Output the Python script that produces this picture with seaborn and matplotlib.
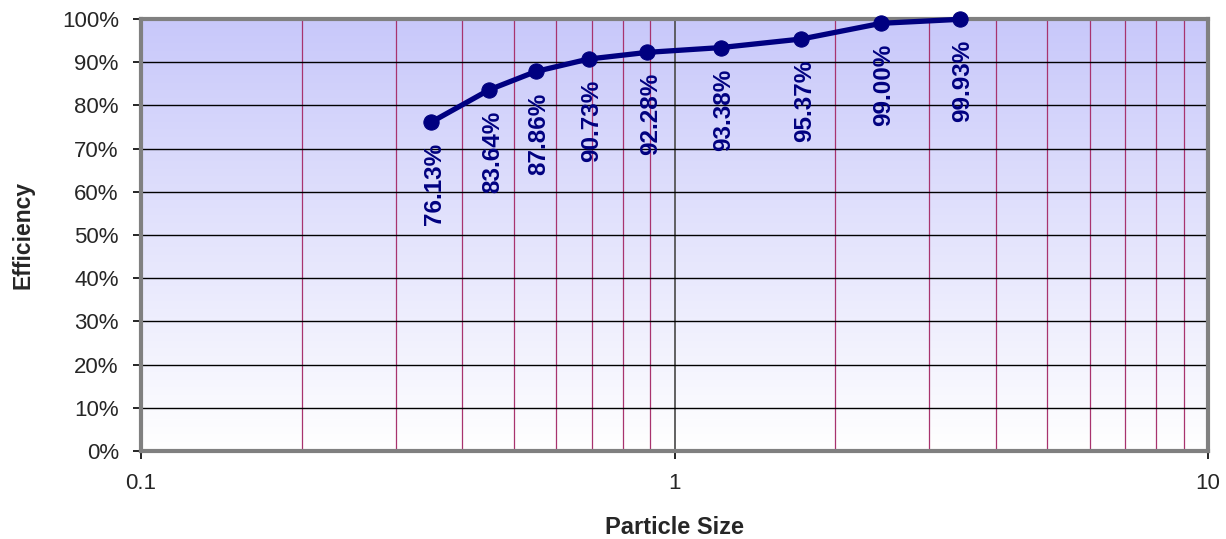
import numpy as np
import pandas as pd
import matplotlib
matplotlib.use("Agg")
import matplotlib.pyplot as plt
import matplotlib.ticker as mticker
import seaborn as sns

particle_size = [0.35, 0.45, 0.55, 0.69, 0.89, 1.22, 1.73, 2.44, 3.43]
efficiency = [76.13, 83.64, 87.86, 90.73, 92.28, 93.38, 95.37, 99.00, 99.93]
y_ticks = [0, 10, 20, 30, 40, 50, 60, 70, 80, 90, 100]
x_ticks = [0.1, 1, 10]
x_tick_labels = ["0.1", "1", "10"]

df = pd.DataFrame({"size": particle_size, "eff": efficiency})

sns.set_style("white")
plt.rcParams["font.family"] = ["Liberation Sans", "DejaVu Sans"]

W, H = 1226, 539
fig = plt.figure(figsize=(W / 100, H / 100), dpi=100)
rect = [141 / W, 1 - 451 / H, (1208 - 141) / W, (451 - 19) / H]

# gradient background in its own axes behind the plot
bg = fig.add_axes(rect, zorder=0)
t = np.linspace(0, 1, 256)[:, None, None]
top = np.array([200, 200, 250])[None, None, :] / 255
bottom = np.ones((1, 1, 3))
bg.imshow(top + (bottom - top) * t, aspect="auto", extent=[0, 1, 0, 1])
bg.set_axis_off()

ax = fig.add_axes(rect, zorder=1)
ax.set_facecolor("none")
ax.set_xscale("log")
ax.set_xlim(0.1, 10)
ax.set_ylim(0, 100)

# grid lines
for v in [0.2, 0.3, 0.4, 0.5, 0.6, 0.7, 0.8, 0.9, 2, 3, 4, 5, 6, 7, 8, 9]:
    ax.axvline(v, color="#A8336E", lw=0.9, zorder=1)
ax.axvline(1, color="#555555", lw=1.3, zorder=1)
for v in y_ticks[1:-1]:
    ax.axhline(v, color="black", lw=1.0, zorder=1)

sns.lineplot(data=df, x="size", y="eff", ax=ax, color="#000080", lw=3.8,
             marker="o", markersize=11, markeredgecolor="#000080",
             zorder=5, clip_on=False)

for x, y in zip(particle_size, efficiency):
    ax.annotate(f"{y:.2f}%", (x, y), xytext=(2, -15), textcoords="offset points",
                rotation=90, ha="center", va="top", fontsize=17.5,
                fontweight="bold", color="#000080", zorder=6)

ax.set_xticks(x_ticks)
ax.set_xticklabels(x_tick_labels)
ax.xaxis.set_minor_locator(mticker.NullLocator())
ax.set_yticks(y_ticks)
ax.set_yticklabels([f"{v}%" for v in y_ticks])
ax.tick_params(axis="both", direction="out", length=6, width=1.2, color="black",
               labelsize=16, pad=10, bottom=True, left=True)

for s in ax.spines.values():
    s.set_color("#808080")
    s.set_linewidth(3)
    s.set_zorder(4)

ax.set_xlabel("Particle Size", fontsize=17, fontweight="bold")
ax.set_ylabel("Efficiency", fontsize=16.5, fontweight="bold", va="center")
ax.xaxis.set_label_coords(0.5, -(527 - 451) / (451 - 19), transform=ax.transAxes)
ax.yaxis.set_label_coords(-(141 - 23) / (1208 - 141), 0.5, transform=ax.transAxes)
ax.xaxis.label.set_va("center")

fig.savefig("out.png", dpi=100)
